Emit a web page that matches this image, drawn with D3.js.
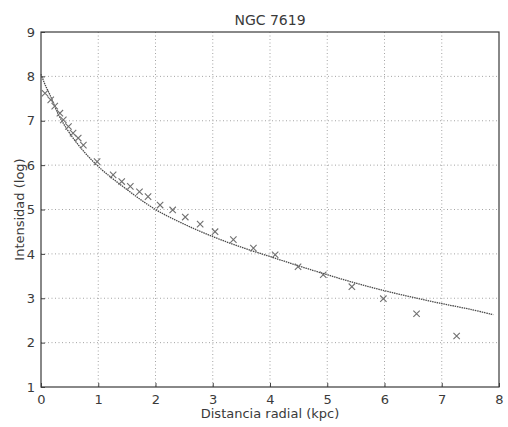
<!DOCTYPE html>
<html>
<head>
<meta charset="utf-8">
<script src="https://cdn.jsdelivr.net/npm/d3@7"></script>
<style>
  html, body { margin: 0; padding: 0; background: #fff; }
  svg { display: block; }
  text { font-family: "DejaVu Sans", sans-serif; fill: #3a3a3a; }
</style>
</head>
<body>
<svg id="chart" width="508" height="427"></svg>
<script>
// ---- data ----
const title = "NGC 7619";
const xLabel = "Distancia radial (kpc)";
const yLabel = "Intensidad (log)";
const xTicks = [0, 1, 2, 3, 4, 5, 6, 7, 8];
const yTicks = [1, 2, 3, 4, 5, 6, 7, 8, 9];

// observed profile (x markers)
const obsR = [0.07, 0.17, 0.24, 0.33, 0.39, 0.48, 0.56, 0.65, 0.74, 0.98, 1.26, 1.41, 1.56, 1.72, 1.87, 2.08, 2.30, 2.52, 2.78, 3.04, 3.36, 3.71, 4.09, 4.49, 4.93, 5.43, 5.98, 6.56, 7.26];
const obsI = [7.62, 7.47, 7.33, 7.17, 7.02, 6.87, 6.72, 6.61, 6.45, 6.08, 5.78, 5.63, 5.52, 5.40, 5.29, 5.10, 4.99, 4.83, 4.67, 4.50, 4.32, 4.13, 3.98, 3.71, 3.53, 3.26, 2.99, 2.65, 2.15];

// fitted profile (line)
const fitR = [0, 0.05, 0.1, 0.15, 0.2, 0.3, 0.4, 0.5, 0.7, 1.0, 1.5, 2.0, 2.5, 3.0, 3.5, 4.0, 4.5, 5.0, 5.5, 6.0, 6.5, 7.0, 7.5, 7.9];
const fitI = [8.05, 7.88, 7.73, 7.6, 7.45, 7.15, 6.92, 6.72, 6.38, 5.97, 5.45, 5.0, 4.67, 4.39, 4.15, 3.94, 3.73, 3.53, 3.34, 3.17, 3.02, 2.88, 2.75, 2.63];

// ---- layout ----
const m = { left: 41, top: 32, right: 499, bottom: 387 };
const svg = d3.select("#chart");
const x = d3.scaleLinear().domain([0, 8]).range([m.left, m.right]);
const y = d3.scaleLinear().domain([1, 9]).range([m.bottom, m.top]);

// grid
const grid = svg.append("g");
grid.selectAll("line.vx").data(xTicks.slice(1, -1)).enter().append("line")
  .attr("x1", d => x(d)).attr("x2", d => x(d))
  .attr("y1", m.top).attr("y2", m.bottom)
  .attr("stroke", "#9a9a9a").attr("stroke-width", 0.9).attr("stroke-dasharray", "1,2.5");
grid.selectAll("line.hy").data(yTicks.slice(1, -1)).enter().append("line")
  .attr("y1", d => y(d)).attr("y2", d => y(d))
  .attr("x1", m.left).attr("x2", m.right)
  .attr("stroke", "#9a9a9a").attr("stroke-width", 0.9).attr("stroke-dasharray", "1,2.5");

// axes (ticks inward, labels only)
const xAxis = d3.axisBottom(x).tickValues(xTicks).tickSize(-4).tickPadding(8).tickFormat(d3.format("d"));
const yAxis = d3.axisLeft(y).tickValues(yTicks).tickSize(-4).tickPadding(6).tickFormat(d3.format("d"));
const gx = svg.append("g").attr("transform", `translate(0,${m.bottom})`).call(xAxis);
const gy = svg.append("g").attr("transform", `translate(${m.left},0)`).call(yAxis);
[gx, gy].forEach(g => {
  g.select(".domain").remove();
  g.selectAll(".tick line").attr("stroke", "#444");
  g.selectAll(".tick text").attr("font-size", 13).style("font-family", "DejaVu Sans, sans-serif").attr("fill", "#3a3a3a");
});

// frame
svg.append("rect").attr("x", m.left).attr("y", m.top)
  .attr("width", m.right - m.left).attr("height", m.bottom - m.top)
  .attr("fill", "none").attr("stroke", "#3a3a3a").attr("stroke-width", 1.2);

// fitted line
const fitData = fitR.map((r, i) => [r, fitI[i]]);
svg.append("path").datum(fitData)
  .attr("d", d3.line().x(d => x(d[0])).y(d => y(d[1])).curve(d3.curveCatmullRom))
  .attr("fill", "none").attr("stroke", "#4a4a4a").attr("stroke-width", 1.3)
  .attr("stroke-dasharray", "1.5,0.8");

// markers
const obs = obsR.map((r, i) => [r, obsI[i]]);
const s = 3.2;
const mk = svg.append("g").attr("stroke", "#707070").attr("stroke-width", 1.1);
mk.selectAll("path").data(obs).enter().append("path")
  .attr("d", d => {
    const cx = x(d[0]), cy = y(d[1]);
    return `M${cx - s},${cy - s}L${cx + s},${cy + s}M${cx - s},${cy + s}L${cx + s},${cy - s}`;
  });

// title and labels
svg.append("text").attr("x", (m.left + m.right) / 2).attr("y", 25)
  .attr("text-anchor", "middle").attr("font-size", 14).text(title);
svg.append("text").attr("x", (m.left + m.right) / 2).attr("y", 418)
  .attr("text-anchor", "middle").attr("font-size", 13).text(xLabel);
svg.append("text").attr("transform", `translate(24,${(m.top + m.bottom) / 2}) rotate(-90)`)
  .attr("text-anchor", "middle").attr("font-size", 13).text(yLabel);
</script>
</body>
</html>
